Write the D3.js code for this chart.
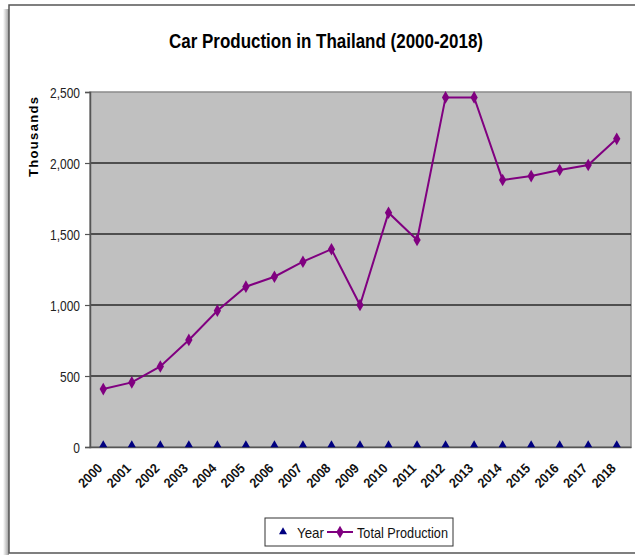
<!DOCTYPE html>
<html><head><meta charset="utf-8">
<script src="https://cdn.jsdelivr.net/npm/d3@7"></script>
<style>
html,body{margin:0;padding:0;background:#fff;}
svg{display:block;}
text{font-family:"Liberation Sans",Arial,sans-serif;}
</style></head><body>
<svg id="c" width="635" height="555"></svg>
<script>
const years = ["2000","2001","2002","2003","2004","2005","2006","2007","2008","2009","2010","2011","2012","2013","2014","2015","2016","2017","2018"];
const production = [408,455,567,754,960,1129,1199,1305,1393,1000,1650,1458,2462,2462,1880,1908,1951,1986,2170];
const yearMarker = [0,0,0,0,0,0,0,0,0,0,0,0,0,0,0,0,0,0,0];
const yTicks = [0,500,1000,1500,2000,2500];
const title = "Car Production in Thailand (2000-2018)";
const yTitle = "Thousands";
const legendLabels = ["Year","Total Production"];

const svg = d3.select("#c");
const M = {left:90, right:631, top:92, bottom:447};

// frame with shadow
const defs = svg.append("defs");
const g1 = defs.append("linearGradient").attr("id","sh").attr("x1",0).attr("x2",1);
g1.append("stop").attr("offset",0).attr("stop-color","#fff");
g1.append("stop").attr("offset",1).attr("stop-color","#999");
svg.append("rect").attr("x",3).attr("y",9).attr("width",6).attr("height",546).attr("fill","url(#sh)");
svg.append("rect").attr("x",9).attr("y",5).attr("width",640).attr("height",548)
  .attr("fill","#fff").attr("stroke","#555").attr("stroke-width",1.5);

const x = d3.scaleBand().domain(years).range([M.left-1, M.right]);
const y = d3.scaleLinear().domain([0,2500]).range([M.bottom, M.top]);

// plot area
svg.append("rect").attr("x",M.left).attr("y",M.top).attr("width",M.right-M.left).attr("height",M.bottom-M.top)
  .attr("fill","#c0c0c0").attr("stroke","#8a8a8a").attr("stroke-width",1.5);

// gridlines
svg.append("g").selectAll("line").data(yTicks.filter(d=>d>0 && d<2500)).join("line")
  .attr("x1",M.left).attr("x2",M.right).attr("y1",d=>y(d)).attr("y2",d=>y(d))
  .attr("stroke","#2a2a2a").attr("stroke-width",1.5);

// y axis
const ya = svg.append("g").attr("transform",`translate(${M.left},0)`)
  .call(d3.axisLeft(y).tickValues(yTicks).tickFormat(d3.format(",")).tickSize(5).tickPadding(5));
ya.select(".domain").attr("stroke","#555").attr("stroke-width",1.5);
ya.selectAll(".tick line").attr("stroke","#555").attr("stroke-width",1.2);
ya.selectAll(".tick text").attr("font-size","15px").attr("fill","#222")
  .attr("font-family","'Liberation Sans',Arial,sans-serif")
  .attr("x",null).attr("dy","0.36em")
  .attr("transform","translate(-10,0) scale(0.8,1)");

// x axis
const xa = svg.append("g").attr("transform",`translate(0,${M.bottom})`)
  .call(d3.axisBottom(x).tickSize(0).tickPadding(0));
xa.select(".domain").attr("stroke","#555").attr("stroke-width",1.5);
xa.selectAll(".tick text").attr("font-size","13.5px").attr("font-weight","bold").attr("fill","#111")
  .attr("font-family","'Liberation Sans',Arial,sans-serif")
  .attr("text-anchor","end").attr("dy",null).attr("y",0)
  .attr("transform","translate(0,22) rotate(-45) scale(0.92,1)");

// year triangles
const tri = d3.symbol().type(d3.symbolTriangle).size(28);
svg.append("g").selectAll("path").data(years).join("path")
  .attr("d",tri).attr("fill","#000080")
  .attr("transform",(d,i)=>`translate(${x(d)+x.bandwidth()/2},${y(yearMarker[i])-2})`);

// production line
const line = d3.line().x((d,i)=>x(years[i])+x.bandwidth()/2).y(d=>y(d));
svg.append("path").datum(production).attr("d",line).attr("fill","none")
  .attr("stroke","#800080").attr("stroke-width",2);
const dia = d3.symbol().type(d3.symbolDiamond).size(46);
svg.append("g").selectAll("path").data(production).join("path")
  .attr("d",dia).attr("fill","#800080")
  .attr("transform",(d,i)=>`translate(${x(years[i])+x.bandwidth()/2},${y(d)})`);

// title
svg.append("text").attr("x",169).attr("y",48).attr("text-anchor","start")
  .attr("font-size","20px").attr("font-weight","bold").attr("fill","#000")
  .attr("textLength",314).attr("lengthAdjust","spacingAndGlyphs").text(title);

// y title
svg.append("text").attr("transform","translate(38,137) rotate(-90)").attr("text-anchor","middle")
  .attr("font-size","13px").attr("font-weight","bold").attr("fill","#000")
  .attr("textLength",80).attr("lengthAdjust","spacing").text(yTitle);

// legend
const lg = svg.append("g");
lg.append("rect").attr("x",265).attr("y",518).attr("width",188).attr("height",28)
  .attr("fill","#fff").attr("stroke","#333").attr("stroke-width",1);
lg.append("path").attr("d",tri).attr("fill","#000080").attr("transform","translate(283,532)");
lg.append("text").attr("x",297).attr("y",538).attr("font-size","15px").attr("fill","#111")
  .attr("textLength",27).attr("lengthAdjust","spacingAndGlyphs").text(legendLabels[0]);
lg.append("line").attr("x1",327).attr("x2",353).attr("y1",532).attr("y2",532).attr("stroke","#800080").attr("stroke-width",2);
lg.append("path").attr("d",dia).attr("fill","#800080").attr("transform","translate(340,532)");
lg.append("text").attr("x",357).attr("y",538).attr("font-size","15px").attr("fill","#111")
  .attr("textLength",91).attr("lengthAdjust","spacingAndGlyphs").text(legendLabels[1]);
</script>
</body></html>
